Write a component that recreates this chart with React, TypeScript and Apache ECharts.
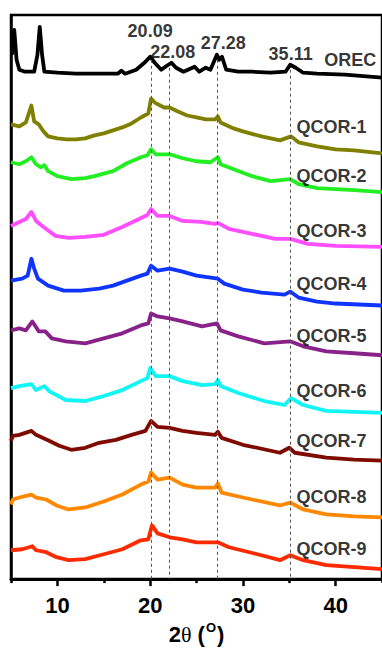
import React, { useEffect, useRef } from "react";
import * as echarts from "echarts";

// ---- Data (2θ in degrees, intensity in arbitrary units incl. stacking offset) ----
const seriesNames = ["OREC", "QCOR-1", "QCOR-2", "QCOR-3", "QCOR-4", "QCOR-5", "QCOR-6", "QCOR-7", "QCOR-8", "QCOR-9"];
const seriesColors = ["#000000", "#808000", "#22ee22", "#ff4dff", "#1034ff", "#882288", "#11f5f5", "#7f0a00", "#ff8800", "#ff2a00"];

const orec: [number, number][] = [
  [5.1, 527], [5.35, 552], [5.6, 522], [5.9, 512], [6.5, 510], [7.5, 510], [7.85, 527], [8.1, 555], [8.35, 527], [8.6, 510],
  [10, 509], [12, 508], [14, 508], [16.5, 508], [16.9, 511], [17.3, 508], [18.5, 512], [19.5, 520], [20.0, 525], [20.5, 519],
  [21.2, 512], [21.8, 516], [22.3, 519], [22.8, 514], [23.6, 510], [24.8, 515], [25.3, 510], [26.0, 514], [26.5, 512], [27.2, 527],
  [27.45, 522], [27.75, 525], [28.2, 512], [29.5, 510], [31, 510], [33, 509], [34.6, 510], [35.1, 517], [35.7, 514], [36.5, 509],
  [38, 508], [41, 507], [45, 504],
];
const qcor1: [number, number][] = [
  [5, 457], [5.9, 455], [6.6, 459], [7.2, 476], [7.5, 460], [8.0, 457], [8.5, 450], [9.0, 445], [10, 443], [11, 442], [12, 442], [13, 443],
  [14, 446], [15, 448], [16, 451], [17, 454], [18, 458], [19, 464], [19.8, 468], [20.1, 483], [20.5, 479], [21.5, 474], [22.1, 474],
  [23, 470], [24, 466], [25, 464], [26, 462], [27, 462], [27.3, 465], [27.6, 459], [29, 453], [30, 450], [32, 445], [34, 441],
  [35.2, 445], [36, 439], [38, 435], [40, 432], [42, 431], [45, 428],
];
const qcor2: [number, number][] = [
  [5, 419], [5.9, 417], [6.6, 420], [7.2, 424], [7.7, 417], [8.2, 414], [8.6, 416], [9.0, 410], [10, 405], [11.5, 402], [13, 403],
  [14, 405], [16, 410], [17.5, 418], [19, 424], [19.7, 426], [20.1, 432], [20.6, 427], [22.1, 427], [23.5, 423], [25, 420],
  [26.5, 419], [27.3, 424], [27.6, 417], [29, 412], [31, 405], [33, 400], [35.1, 402], [36, 397], [38, 393], [40, 392], [42, 391], [45, 389],
];
const qcor3: [number, number][] = [
  [5, 355], [5.9, 359], [6.6, 362], [7.2, 369], [7.7, 360], [8.5, 354], [9.8, 345], [11.2, 343], [13, 344], [15, 346], [17, 354],
  [18.8, 362], [19.7, 366], [20.1, 372], [20.8, 365], [22.1, 365], [23.5, 360], [25.5, 359], [27, 357], [27.3, 358], [28.5, 352],
  [31, 347], [33.5, 342], [35.1, 342], [37, 337], [40, 335], [45, 334],
];
const qcor4: [number, number][] = [
  [5, 300], [6.2, 302], [6.8, 305], [7.2, 322], [7.5, 312], [7.9, 302], [9, 295], [10.7, 290], [12.5, 290], [14.5, 292], [16, 295],
  [17.5, 300], [19, 305], [19.7, 307], [20.1, 315], [20.8, 310], [22.1, 312], [23.5, 309], [25, 305], [27.3, 302], [28, 297],
  [30, 291], [32, 288], [34.5, 286], [35.1, 289], [36, 283], [38, 279], [40, 277], [45, 275],
];
const qcor5: [number, number][] = [
  [5, 250], [5.9, 252], [6.6, 250], [7.3, 259], [8, 249], [8.7, 249], [9.4, 242], [10.9, 239], [13, 237], [15, 242], [17, 247],
  [19, 255], [19.8, 257], [20.1, 267], [20.8, 264], [22.1, 262], [23.5, 259], [25.6, 254], [27.2, 257], [27.6, 250], [29.5, 244],
  [32.3, 237], [35.1, 239], [36.5, 234], [39, 229], [42, 227], [45, 225],
];
const qcor6: [number, number][] = [
  [5, 192], [5.9, 194], [7.2, 196], [7.7, 190], [8.6, 194], [9.1, 189], [10.9, 180], [13, 179], [15, 184], [17, 190], [19, 199],
  [19.7, 202], [20.0, 212], [20.6, 204], [22.1, 204], [23.5, 199], [25.6, 195], [27.0, 196], [27.3, 200], [27.6, 194], [29.5, 187],
  [32.3, 179], [34.5, 175], [35.2, 182], [36.5, 175], [39, 169], [42, 168], [45, 167],
];
const qcor7: [number, number][] = [
  [5, 139], [5.2, 144], [5.9, 145], [7.2, 149], [7.7, 145], [8.4, 142], [9.1, 139], [10.2, 134], [11.5, 130], [13, 132], [14.5, 137],
  [16.3, 140], [18, 145], [19.5, 149], [20.1, 159], [20.8, 153], [22.1, 152], [23.5, 149], [25, 147], [27.0, 145], [27.3, 148],
  [27.7, 142], [30, 135], [34, 127], [35.0, 132], [35.6, 127], [39, 122], [42, 120], [45, 119],
];
const qcor8: [number, number][] = [
  [5, 75], [5.2, 80], [5.9, 82], [7.2, 85], [7.7, 82], [8.8, 80], [9.9, 74], [11.2, 70], [13, 72], [15, 78], [17, 85], [19, 95],
  [19.8, 98], [20.1, 107], [20.8, 100], [22.1, 102], [23.5, 95], [25, 92], [27.0, 92], [27.3, 96], [27.7, 87], [30, 82], [34, 74],
  [35.1, 77], [36.5, 70], [39, 65], [42, 63], [45, 62],
];
const qcor9: [number, number][] = [
  [5, 29], [6.2, 30], [7.3, 33], [7.7, 29], [8.8, 27], [9.9, 22], [11.2, 19], [13, 20], [15, 25], [17, 30], [19, 39], [19.8, 40],
  [20.2, 54], [20.8, 46], [22.1, 42], [23.5, 40], [25, 37], [27.3, 37], [28.5, 32], [32, 24], [34, 19], [35.1, 24], [36.5, 19],
  [39, 14], [42, 12], [45, 10],
];
const seriesData = [orec, qcor1, qcor2, qcor3, qcor4, qcor5, qcor6, qcor7, qcor8, qcor9];

const peakPositions = [20.09, 22.08, 27.28, 35.11];
const peakLineTops = [522, 514, 522, 512];
const peakLabelAnchors: [number, number][] = [[20.0, 551], [22.45, 530], [27.89, 539], [35.15, 528]];
const nameLabelAnchors: [number, number][] = [
  [38.78, 522], [35.79, 454], [35.79, 405], [35.79, 350], [35.79, 297], [35.79, 244], [35.79, 189], [35.79, 139], [35.79, 83], [35.79, 30],
];
const majorTicks = [10, 20, 30, 40];
const minorTicks = [5, 15, 25, 35, 45];

const FONT = "'Liberation Sans', Arial, sans-serif";

export default function App() {
  const ref = useRef<HTMLDivElement>(null);
  useEffect(() => {
    if (!ref.current) return;
    const chart = echarts.init(ref.current, undefined, { renderer: "svg" });
    const lineSeries = seriesData.map((d, i) => ({
      type: "line",
      name: seriesNames[i],
      data: d,
      symbol: "none",
      showSymbol: false,
      smooth: false,
      lineStyle: { width: 3.8, color: seriesColors[i], join: "round" },
      itemStyle: { color: seriesColors[i] },
      z: 3,
      ...(i === 0
        ? {
            markLine: {
              silent: true,
              symbol: "none",
              label: { show: false },
              lineStyle: { color: "#555", width: 1, type: [3, 3] },
              data: peakPositions.map((p, k) => [
                { coord: [p, peakLineTops[k]] },
                { coord: [p, 0] },
              ]),
            },
          }
        : {}),
    }));
    chart.setOption({
      animation: false,
      grid: {
        left: 11,
        right: -4,
        top: 15,
        bottom: 68.5,
        show: true,
        borderColor: "#000",
        borderWidth: 2.5,
        backgroundColor: "transparent",
      },
      xAxis: [
        {
          type: "value",
          min: 5,
          max: 45,
          position: "bottom",
          axisLine: { show: true, onZero: false, lineStyle: { color: "#000", width: 3 } },
          axisTick: { show: true, customValues: majorTicks, length: 7, lineStyle: { color: "#000", width: 2.5 } },
          axisLabel: {
            customValues: majorTicks,
            fontSize: 22,
            fontWeight: "bold",
            fontFamily: FONT,
            color: "#000",
            margin: 15,
          },
          splitLine: { show: false },
          name: "{b|2}{t|θ}{b| (}{s|O}{b|)}",
          nameLocation: "middle",
          nameGap: 41,
          nameTextStyle: {
            rich: {
              b: { fontSize: 22, fontWeight: "bold", fontFamily: FONT, color: "#000", lineHeight: 26 },
              t: { fontSize: 22, fontFamily: "'Liberation Serif', serif", color: "#000", lineHeight: 26 },
              s: { fontSize: 13, fontWeight: "bold", fontFamily: FONT, color: "#000", verticalAlign: "top", lineHeight: 26, padding: [0, 1, 12, 1] },
            },
          },
        },
        {
          type: "value",
          min: 5,
          max: 45,
          position: "bottom",
          axisLine: { show: false },
          axisTick: { show: true, customValues: minorTicks, length: 4, lineStyle: { color: "#000", width: 2.5 } },
          axisLabel: { show: false },
          splitLine: { show: false },
        },
      ],
      yAxis: {
        type: "value",
        min: 0,
        max: 567,
        axisLine: { show: true, lineStyle: { color: "#000", width: 2.5 } },
        axisTick: { show: false },
        axisLabel: { show: false },
        splitLine: { show: false },
      },
      series: [
        ...lineSeries,
        {
          type: "scatter",
          silent: true,
          symbolSize: 0,
          z: 10,
          data: peakLabelAnchors.map((p, i) => ({ value: p, label: { formatter: peakPositions[i].toFixed(2) } })),
          label: { show: true, position: "inside", fontSize: 18, fontWeight: "bold", fontFamily: FONT, color: "#000" },
        },
        {
          type: "scatter",
          silent: true,
          symbolSize: 0,
          z: 10,
          data: nameLabelAnchors.map((p, i) => ({ value: p, label: { formatter: seriesNames[i] } })),
          label: { show: true, position: "right", distance: 0, fontSize: 18, fontWeight: "bold", fontFamily: FONT, color: "#000" },
        },
      ],
    });
    return () => chart.dispose();
  }, []);
  return <div ref={ref} style={{ position: "absolute", left: 0, top: 0, width: 382, height: 651 }} />;
}
